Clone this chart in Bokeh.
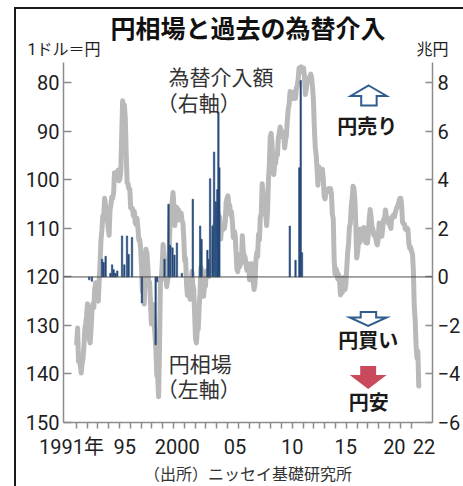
from bokeh.plotting import figure
from bokeh.models import Range1d, LinearAxis, FixedTicker, Label, Span, Title
from bokeh.layouts import column
from bokeh.embed import file_html
from bokeh.resources import INLINE

# ---------------- data ----------------
# USD/JPY monthly averages (yen per dollar)
yen_1991_2000 = [
    133.7, 130.5, 137.4, 137.1, 138.2, 139.8, 137.8, 136.8, 134.3, 130.8, 129.6, 128.0,
    125.5, 127.7, 132.9, 133.6, 130.6, 126.9, 125.6, 126.3, 122.6, 121.2, 123.9, 123.9,
    125.0, 120.8, 117.0, 112.4, 110.3, 107.4, 107.7, 103.8, 105.1, 106.9, 107.9, 109.9,
    111.4, 106.3, 105.1, 103.5, 103.8, 102.7, 98.5, 100.0, 98.8, 98.4, 98.0, 100.2,
    99.8, 98.2, 90.8, 83.7, 85.1, 84.6, 87.4, 94.7, 100.6, 100.8, 101.9, 101.9,
    105.8, 105.8, 105.9, 107.4, 106.5, 108.8, 109.2, 107.9, 109.9, 112.4, 112.3, 113.9,
    117.9, 123.0, 122.7, 125.6, 119.2, 114.3, 115.1, 117.9, 120.9, 121.1, 125.4, 129.7,
    127.9, 125.7, 129.0, 132.0, 134.9, 140.3, 140.7, 144.7, 134.5, 121.1, 120.5, 117.4,
    113.3, 116.6, 119.7, 119.7, 122.0, 120.7, 119.7, 113.2, 107.0, 105.9, 104.7, 102.6,
    105.2, 109.4, 106.3, 105.6, 108.3, 106.1, 107.9, 108.0, 106.8, 108.4, 108.9, 112.2,
]
yen_2001_2010 = [
    116.7, 116.2, 121.5, 123.8, 122.0, 122.1, 124.6, 121.5, 118.9, 121.6, 122.5, 127.6,
    132.7, 133.6, 131.0, 130.8, 126.4, 123.4, 118.0, 118.9, 120.9, 124.0, 121.7, 121.9,
    118.8, 119.3, 118.7, 119.9, 117.4, 118.3, 118.7, 118.7, 114.8, 109.5, 109.2, 107.7,
    106.3, 106.7, 108.5, 107.7, 112.2, 109.4, 109.4, 110.2, 110.0, 108.8, 104.7, 103.8,
    103.3, 104.9, 105.3, 107.2, 106.6, 108.8, 111.9, 110.6, 111.2, 114.8, 118.5, 118.9,
    115.5, 117.9, 117.3, 117.1, 111.5, 114.6, 115.6, 115.9, 117.2, 118.6, 117.3, 117.3,
    120.6, 120.5, 117.3, 118.8, 120.8, 122.6, 121.6, 116.7, 115.0, 115.8, 111.2, 112.4,
    107.6, 107.1, 100.8, 102.7, 104.4, 106.9, 106.9, 109.4, 106.6, 100.1, 96.9, 91.3,
    90.4, 92.5, 97.8, 98.9, 96.6, 96.6, 94.5, 94.9, 91.4, 90.3, 89.1, 89.9,
    91.1, 90.1, 90.7, 93.4, 91.8, 90.9, 87.7, 85.4, 84.4, 81.8, 82.5, 83.3,
]
yen_2011_2022 = [
    82.6, 82.5, 81.8, 83.2, 81.2, 80.5, 79.3, 77.0, 76.8, 76.7, 77.5, 77.8,
    76.9, 78.5, 82.4, 81.4, 79.7, 79.3, 79.0, 78.7, 78.2, 79.0, 80.9, 83.6,
    89.2, 93.2, 94.8, 97.7, 101.1, 97.3, 99.7, 97.9, 99.2, 97.8, 100.1, 103.5,
    103.9, 102.1, 102.3, 102.5, 101.8, 102.1, 101.8, 102.9, 107.1, 108.0, 116.4, 119.4,
    118.3, 118.8, 120.4, 119.5, 120.8, 123.7, 123.3, 123.2, 120.2, 120.1, 122.6, 121.6,
    118.2, 115.0, 113.1, 109.7, 109.0, 105.5, 103.9, 101.3, 101.8, 103.9, 108.6, 116.1,
    115.0, 113.1, 113.0, 110.1, 112.2, 110.9, 112.4, 109.8, 111.0, 112.9, 112.8, 113.0,
    110.9, 107.9, 106.1, 107.6, 109.7, 110.1, 111.4, 111.0, 111.9, 112.8, 113.4, 112.1,
    108.9, 110.4, 111.2, 111.6, 109.8, 108.1, 108.2, 106.2, 107.5, 108.1, 108.8, 109.1,
    109.3, 110.0, 107.7, 107.8, 107.2, 107.6, 106.7, 106.0, 105.6, 105.2, 104.4, 103.8,
    103.8, 105.4, 108.7, 109.1, 109.1, 110.1, 110.3, 109.9, 110.2, 113.1, 114.1, 113.9,
    114.8, 115.2, 118.5, 126.1, 128.8, 133.9, 136.7, 135.3, 142.5,
]

# Intervention amounts (trillion yen; + = yen selling, - = yen buying)
intervention_date = [
    1992.20, 1992.45,
    1993.39, 1993.54, 1993.72, 1994.16, 1994.32, 1994.46, 1994.62, 1994.80,
    1995.24, 1995.45, 1995.70, 1995.85, 1996.16,
    1997.08, 1998.35, 1998.50,
    1999.17, 1999.54, 1999.70, 1999.91, 2000.09, 2000.32, 2000.78,
    2001.79, 2002.47, 2002.60,
    2003.14, 2003.23, 2003.39, 2003.62, 2003.76, 2003.92, 2004.06, 2004.16, 2004.25,
    2010.77, 2011.30, 2011.65, 2011.78, 2011.90,
]
intervention_amount = [
    -0.12, -0.18,
    0.73, 0.60, 0.85, 0.15, 0.50, 0.30, 0.15, 0.25,
    1.69, 0.50, 1.69, 0.93, 1.63,
    -1.07, -2.80, -0.20,
    0.73, 3.00, 1.30, 1.20, 0.90, 1.40, 0.15,
    3.20, 2.10, 1.55,
    1.10, 0.73, 4.05, 2.10, 5.15, 3.10, 3.60, 6.80, 4.50,
    2.10, 0.69, 4.50, 8.10, 1.00,
]

yen_ticks = [80, 90, 100, 110, 120, 130, 140, 150]
trn_ticks = [8, 6, 4, 2, 0, -2, -4, -6]
year_ticks = list(range(1991, 2023))
year_label_pos = [1990.56, 1995.50, 2000.35, 2005.70, 2011.00, 2015.95, 2020.45, 2023.20]
year_label_text = ["1991年", "95", "2000", "05", "10", "15", "20", "22"]
unit_label_pos = [63.5, 432.9]          # page-pixel positions of the unit captions
unit_label_text = ["1ドル＝円", "兆円"]

# ---------------- layout constants ----------------
OFF_X, OFF_Y = 16, 9                     # figure origin on the page (after border)
FIG_W, FIG_H = 447, 477
FRAME_L, FRAME_R, FRAME_T, FRAME_B = 63, 433, 62, 422   # page px
X_START, X_END = 1989.82, 2023.98
Y_BOTTOM, Y_TOP = 150, 75.8
TRN_BOTTOM, TRN_TOP = (120 - Y_BOTTOM) / 5, (120 - Y_TOP) / 5


def dx(px):
    return X_START + (px - FRAME_L) * (X_END - X_START) / (FRAME_R - FRAME_L)


def dy(py):
    return Y_BOTTOM + (py - FRAME_B) * (Y_TOP - Y_BOTTOM) / (FRAME_T - FRAME_B)


NUM_FONT = "Roboto, 'Noto Sans CJK JP', sans-serif"
JP_FONT = "'Noto Sans CJK JP', sans-serif"
AXIS_COLOR = "#8c8c8c"
LABEL_COLOR = "#1e1e1e"

# ---------------- series ----------------
month_x, yen = [], []
for start, block in ((1991, yen_1991_2000), (2001, yen_2001_2010), (2011, yen_2011_2022)):
    for i, v in enumerate(block):
        month_x.append(start + i // 12 + (i % 12 + 0.5) / 12)
        yen.append(v)

p = figure(width=FIG_W, height=FIG_H, output_backend="svg", toolbar_location=None,
           x_range=Range1d(X_START, X_END), y_range=Range1d(Y_BOTTOM, Y_TOP),
           min_border_left=FRAME_L - OFF_X, min_border_right=OFF_X + FIG_W - FRAME_R,
           min_border_top=FRAME_T - OFF_Y, min_border_bottom=OFF_Y + FIG_H - FRAME_B)
p.extra_y_ranges = {"trn": Range1d(TRN_BOTTOM, TRN_TOP)}
p.extra_x_ranges = {"page": Range1d(FRAME_L, FRAME_R)}
p.outline_line_color = None
p.xgrid.visible = False
p.ygrid.visible = False
p.background_fill_color = "white"
p.border_fill_color = "white"

# bottom axis (configured before any other x axis is added)
xa = p.below[0]
xa.ticker = FixedTicker(ticks=year_label_pos, minor_ticks=year_ticks)
xa.major_label_overrides = {pos: txt for pos, txt in zip(year_label_pos, year_label_text)}
xa.major_tick_in = 0
xa.major_tick_out = 0
xa.minor_tick_in = 0
xa.minor_tick_out = 6
xa.minor_tick_line_color = AXIS_COLOR
xa.minor_tick_line_width = 1.5
xa.axis_line_color = AXIS_COLOR
xa.axis_line_width = 1.5
xa.major_label_standoff = 6
xa.major_label_text_font = NUM_FONT
xa.major_label_text_font_size = "20px"
xa.major_label_text_color = LABEL_COLOR

# left axis
ya = p.left[0]
ya.ticker = FixedTicker(ticks=yen_ticks)
ya.major_tick_in = 8
ya.major_tick_out = 0
ya.minor_tick_line_color = None
ya.axis_line_color = AXIS_COLOR
ya.axis_line_width = 1.5
ya.major_tick_line_color = AXIS_COLOR
ya.major_tick_line_width = 1.5
ya.major_label_standoff = 4
ya.major_label_text_font = NUM_FONT
ya.major_label_text_font_size = "20px"
ya.major_label_text_color = LABEL_COLOR

# right axis
ra = LinearAxis(y_range_name="trn", ticker=FixedTicker(ticks=trn_ticks))
ra.major_tick_in = 7
ra.major_tick_out = 0
ra.minor_tick_line_color = None
ra.axis_line_color = AXIS_COLOR
ra.axis_line_width = 1.5
ra.major_tick_line_color = AXIS_COLOR
ra.major_tick_line_width = 1.5
ra.major_label_standoff = 5
ra.major_label_text_font = NUM_FONT
ra.major_label_text_font_size = "20px"
ra.major_label_text_color = LABEL_COLOR
p.add_layout(ra, "right")

# unit captions row (above axis without line/ticks)
ua = LinearAxis(x_range_name="page", ticker=FixedTicker(ticks=unit_label_pos))
ua.major_label_overrides = {pos: txt for pos, txt in zip(unit_label_pos, unit_label_text)}
ua.axis_line_color = None
ua.major_tick_line_color = None
ua.minor_tick_line_color = None
ua.major_tick_in = 0
ua.major_tick_out = 0
ua.minor_tick_in = 0
ua.minor_tick_out = 0
ua.major_label_standoff = 4
ua.major_label_text_font = NUM_FONT
ua.major_label_text_font_size = "16px"
ua.major_label_text_color = LABEL_COLOR
p.add_layout(ua, "above")

# title
p.title.text = "円相場と過去の為替介入"
p.title.align = "center"
p.title.vertical_align = "middle"
p.title.offset = -6.5
p.title.standoff = -16
p.title.text_font = NUM_FONT
p.title.text_font_size = "25px"
p.title.text_font_style = "bold"
p.title.text_color = "#111111"

# source note
p.add_layout(Title(text="（出所）ニッセイ基礎研究所", align="center", offset=-4.5, standoff=3,
                   text_font=NUM_FONT, text_font_size="16px", text_font_style="normal",
                   text_color="#333333"), "below")

# zero line
p.add_layout(Span(location=120, dimension="width", line_color="#4d4d4d", line_width=1))

# yen line
p.line(month_x, yen, line_color="#b9b9b9", line_width=5, line_join="round", line_cap="round")

# intervention bars
p.vbar(x=intervention_date, top=intervention_amount, bottom=0, width=0.13,
       y_range_name="trn", fill_color="#254a7a", line_color="#254a7a", line_width=0.6)

# arrows (page-pixel shapes converted to data space)
up_arrow = [(369, 85), (387, 95.5), (377, 95.5), (377, 105), (361.5, 105), (361.5, 95.5), (351, 95.5)]
down_arrow = [(361, 311.5), (376.5, 311.5), (376.5, 317), (387, 317), (368.5, 325.5), (350, 317), (361, 317)]
red_arrow = [(360.5, 365.5), (376.5, 365.5), (376.5, 374.5), (387, 374.5), (368.5, 388.5), (350, 374.5), (360.5, 374.5)]
for shape, fill, line in ((up_arrow, "white", "#2f5d8e"), (down_arrow, "white", "#2f5d8e"),
                          (red_arrow, "#c94a5b", None)):
    p.patch([dx(a) for a, b in shape], [dy(b) for a, b in shape], fill_color=fill,
            line_color=line, line_width=2, line_join="miter")


def add_text(txt, px, py, size, bold=False, align="center", color="#222222", font=JP_FONT):
    p.add_layout(Label(x=dx(px), y=dy(py), text=txt, text_font=font,
                       text_font_size=f"{size}px", text_font_style="bold" if bold else "normal",
                       text_align=align, text_baseline="middle", text_color=color))


add_text("為替介入額", 221, 75, 21, color="#333333")
add_text("（右軸）", 198.5, 101, 21, color="#333333")
add_text("円相場", 200, 362, 21, color="#333333")
add_text("（左軸）", 198.5, 387, 21, color="#333333")
add_text("円売り", 367.5, 125, 20, bold=True, color="#1a1a1a")
add_text("円買い", 368.5, 339, 20, bold=True, color="#1a1a1a")
add_text("円安", 369, 401, 20, bold=True, color="#1a1a1a")

layout = column(p, margin=(7, 0, 0, 14),
                styles={"border-left": "2px solid #1a1a1a", "border-top": "2px solid #1a1a1a"})

open("out.html", "w").write(file_html(layout, INLINE))
